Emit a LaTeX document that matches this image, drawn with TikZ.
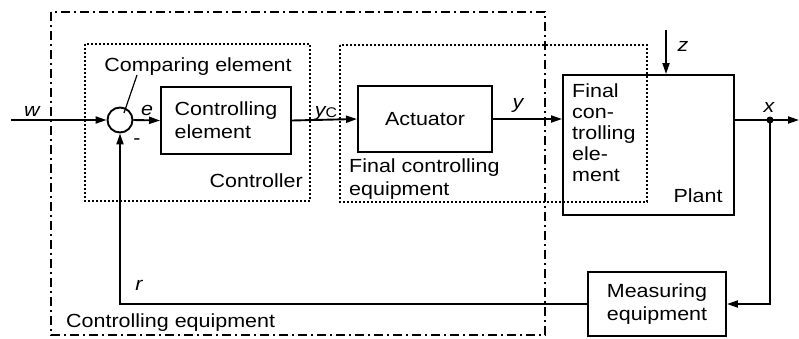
\documentclass[tikz,border=0pt]{standalone}
\usepackage{fontspec}
\setmainfont{Liberation Sans}[FakeStretch=1.13]
\usetikzlibrary{arrows.meta,calc}
\begin{document}
\begin{tikzpicture}[x=1pt,y=-1pt,
  every node/.style={font=\fontsize{19}{23}\selectfont, inner sep=0pt},
  blk/.style={draw, line width=1.9pt, align=center},
  sig/.style={line width=1.9pt, -{Triangle[length=11pt,width=7pt]}},
  dotbox/.style={line width=1.4pt, dash pattern=on 2pt off 2pt},
  dashdotbox/.style={line width=1.7pt, dash pattern=on 9pt off 4pt on 2pt off 4pt},
  var/.style={font=\fontsize{19}{23}\selectfont\itshape},
  lbl/.style={anchor=base}]
\useasboundingbox (0,0) rectangle (799,338);

% grouping frames
\draw[dashdotbox] (51,12) rectangle (545,335);
\draw[dotbox] (85,44) rectangle (310,201);
\draw[dotbox] (340,45) rectangle (647,202);

% blocks
\node[draw, circle, line width=1.9pt, minimum size=25pt] (cmp) at (120,120) {};
\node[blk, align=left, minimum width=130pt, minimum height=67pt] (ce) at (226,120.5) {Controlling\\element};
\node[blk, minimum width=134pt, minimum height=66pt] (act) at (425,119) {Actuator};
\node[draw, line width=1.9pt, minimum width=171pt, minimum height=140pt] (pl) at (648.5,145) {};
\node[blk, minimum width=138pt, minimum height=64pt] (me) at (657,304) {Measuring\\equipment};

% free ends and branch point
\coordinate (win) at (11,120);
\coordinate (out) at (799,120);
\coordinate (jx) at (770,120);
\coordinate (zs) at (666,30);

% signal paths
\draw[sig] (win) -- (cmp.west);
\draw[sig] (cmp.east) -- (ce.west);
\draw[sig] (ce.east) -- (act.west);
\draw[sig] (act.east) -- (act.east -| pl.west);
\draw[sig] (pl.east |- jx) -- (out);
\draw[sig] (zs) -- (zs |- pl.north);
\draw[sig] (jx) |- (me.east);
\draw[sig] (me.west) -| (cmp.south);
\fill (jx) circle (3.5pt);

% signal names
\node[var] (lw) at (32,111) {w};
\node[var] (le) at (147,110) {e};
\node[lbl] (lyc) at (326,116) {{\itshape y}\raisebox{-1.5pt}{\fontsize{14}{14}\selectfont C}};
\node[var] (ly) at (518,105) {y};
\node[var] (lx) at (769,107) {x};
\node[var] (lz) at (683,46) {z};
\node[var] (lr) at (139,285) {r};
\node (lminus) at (137,142) {-};

% element names
\node[lbl] (lcmp) at (198,71) {Comparing element};
\draw[line width=1.2pt] (137,75) -- ($(cmp)+(4,-7)$);
\node[anchor=base east] (lctl) at (303,187) {Controller};
\node[anchor=base west, align=left] (lfce) at (349,195) {Final controlling\\equipment};
\node[anchor=base west, align=left, font=\fontsize{19}{21}\selectfont] (lfel) at (572,181) {Final\\con-\\trolling\\ele-\\ment};
\node[lbl] (lpl) at (698,202) {Plant};
\node[anchor=base west] (lceq) at (66,327) {Controlling equipment};
\end{tikzpicture}
\end{document}
